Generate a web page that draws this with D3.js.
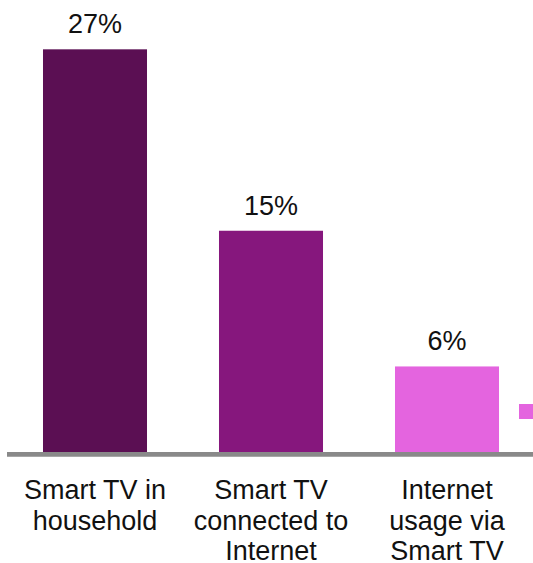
<!DOCTYPE html>
<html>
<head>
<meta charset="utf-8">
<script src="https://cdn.jsdelivr.net/npm/d3@7"></script>
<style>
  html, body { margin: 0; padding: 0; background: #fff; }
  svg { display: block; font-family: "Liberation Sans", Arial, sans-serif; }
</style>
</head>
<body>
<div id="chart"></div>
<script>
// Chart data
const categories = ["Smart TV in household", "Smart TV connected to Internet", "Internet usage via Smart TV"];
const categoryLines = [
    ["Smart TV in", "household"],
    ["Smart TV", "connected to", "Internet"],
    ["Internet", "usage via", "Smart TV"]
];
const values = [27.3, 15.0, 5.8];
const barColors = ["#5b0f53", "#86177d", "#e464df"];

const width = 533, height = 563;
const baseY = 452;

const svg = d3.select("#chart")
    .append("svg")
    .attr("width", width)
    .attr("height", height);

// Scales
const x = d3.scaleBand()
    .domain(categories)
    .range([7, 535])
    .paddingInner(0.409)
    .paddingOuter(0.2045);

const y = d3.scaleLinear()
    .domain([0, 30])
    .range([baseY, baseY - 30 * 14.75]);

// Bars
svg.append("g")
    .selectAll("rect")
    .data(values)
    .join("rect")
    .attr("x", (d, i) => x(categories[i]))
    .attr("y", d => y(d))
    .attr("width", x.bandwidth())
    .attr("height", d => y(0) - y(d))
    .attr("fill", (d, i) => barColors[i]);

// Value labels
svg.append("g")
    .selectAll("text")
    .data(values)
    .join("text")
    .attr("x", (d, i) => x(categories[i]) + x.bandwidth() / 2)
    .attr("y", d => y(d) - 16)
    .attr("text-anchor", "middle")
    .attr("font-size", 27)
    .attr("fill", "#111")
    .text(d => d3.format(".0f")(d) + "%");

// Baseline
svg.append("line")
    .attr("x1", 7)
    .attr("x2", width)
    .attr("y1", y(0) + 2.4)
    .attr("y2", y(0) + 2.4)
    .attr("stroke", "#898989")
    .attr("stroke-width", 4.6);

// Category labels
const labels = svg.append("g")
    .selectAll("text")
    .data(categoryLines)
    .join("text")
    .attr("text-anchor", "middle")
    .attr("font-size", 27)
    .attr("fill", "#111");

labels.selectAll("tspan")
    .data((d, i) => d.map(line => ({line, i})))
    .join("tspan")
    .attr("x", d => x(categories[d.i]) + x.bandwidth() / 2)
    .attr("y", (d, j) => 499 + j * 30.5)
    .text(d => d.line);

// Legend marker (cut at right edge)
svg.append("rect")
    .attr("x", 519)
    .attr("y", 404)
    .attr("width", 15)
    .attr("height", 15)
    .attr("fill", barColors[2]);
</script>
</body>
</html>
